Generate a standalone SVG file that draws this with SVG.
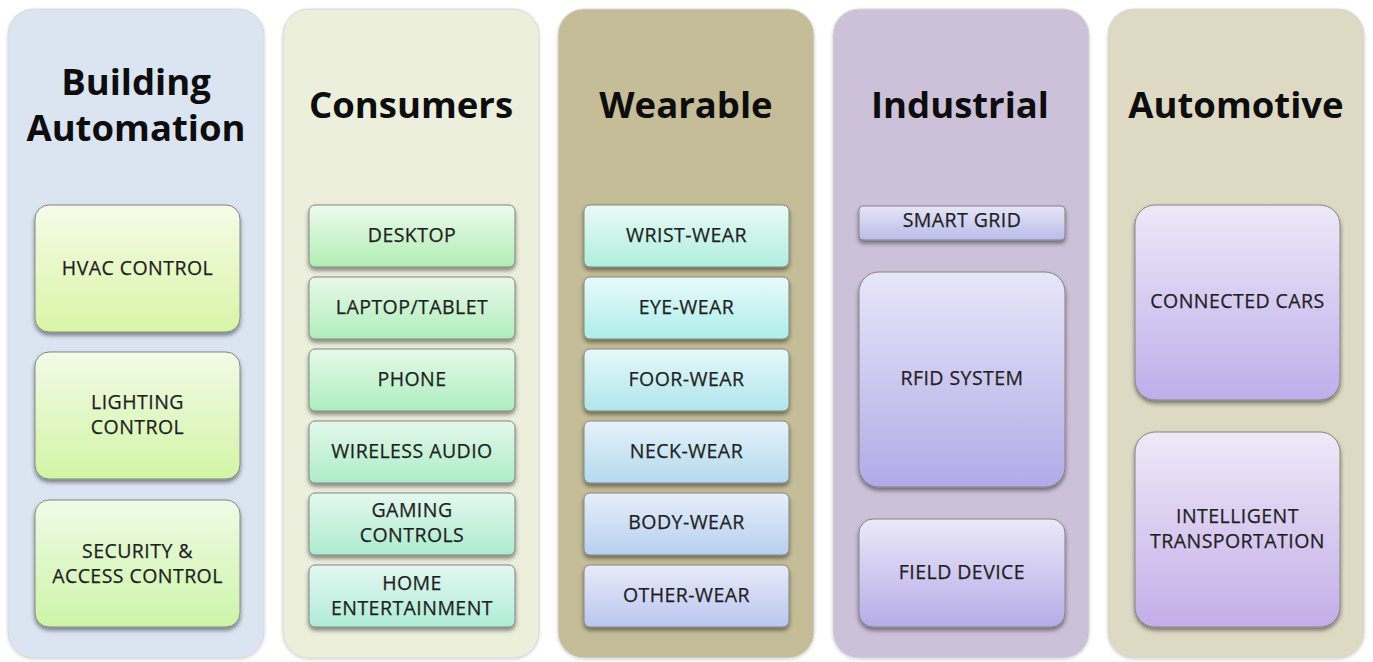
<svg xmlns="http://www.w3.org/2000/svg" width="1373" height="662" viewBox="0 0 1373 662">
<style>
.panel{stroke:#d8d8d8;stroke-width:1;filter:url(#ps)}
.box{stroke:#858585;stroke-width:1;filter:url(#bs)}
.title{font-family:"Open Sans","DejaVu Sans",sans-serif;font-weight:700;font-size:36.5px;fill:#0d0d0d;text-anchor:middle}
.lbl{font-family:"Open Sans","DejaVu Sans",sans-serif;font-size:19.5px;fill:#1f1f1f;text-anchor:middle;letter-spacing:0.45px;stroke:#1f1f1f;stroke-width:0.25px}
</style>
<defs>
<filter id="ps" x="-10%" y="-10%" width="120%" height="120%">
<feDropShadow dx="0" dy="1" stdDeviation="1.5" flood-color="#000" flood-opacity="0.18"/>
</filter>
<filter id="bs" x="-10%" y="-20%" width="120%" height="150%">
<feDropShadow dx="0" dy="3" stdDeviation="2" flood-color="#000" flood-opacity="0.45"/>
</filter>
<linearGradient id="g1a" x1="0" y1="0" x2="0" y2="1"><stop offset="0" stop-color="#f5fbe8"/><stop offset="1" stop-color="#d9f5a6"/></linearGradient>
<linearGradient id="g1b" x1="0" y1="0" x2="0" y2="1"><stop offset="0" stop-color="#f1fbe6"/><stop offset="1" stop-color="#d3f4a6"/></linearGradient>
<linearGradient id="g1c" x1="0" y1="0" x2="0" y2="1"><stop offset="0" stop-color="#eefbe6"/><stop offset="1" stop-color="#cdf4a8"/></linearGradient>
<linearGradient id="g2a" x1="0" y1="0" x2="0" y2="1"><stop offset="0" stop-color="#eefaee"/><stop offset="1" stop-color="#b0eeb2"/></linearGradient>
<linearGradient id="g2b" x1="0" y1="0" x2="0" y2="1"><stop offset="0" stop-color="#e8f9ea"/><stop offset="1" stop-color="#afeeba"/></linearGradient>
<linearGradient id="g2c" x1="0" y1="0" x2="0" y2="1"><stop offset="0" stop-color="#e6f9ea"/><stop offset="1" stop-color="#adeebf"/></linearGradient>
<linearGradient id="g2d" x1="0" y1="0" x2="0" y2="1"><stop offset="0" stop-color="#e4f8ec"/><stop offset="1" stop-color="#acedc6"/></linearGradient>
<linearGradient id="g2e" x1="0" y1="0" x2="0" y2="1"><stop offset="0" stop-color="#e4f8ef"/><stop offset="1" stop-color="#acecce"/></linearGradient>
<linearGradient id="g2f" x1="0" y1="0" x2="0" y2="1"><stop offset="0" stop-color="#e4f8f1"/><stop offset="1" stop-color="#aeecd6"/></linearGradient>
<linearGradient id="g3a" x1="0" y1="0" x2="0" y2="1"><stop offset="0" stop-color="#eafbf6"/><stop offset="1" stop-color="#afeedf"/></linearGradient>
<linearGradient id="g3b" x1="0" y1="0" x2="0" y2="1"><stop offset="0" stop-color="#e8fafa"/><stop offset="1" stop-color="#adeee9"/></linearGradient>
<linearGradient id="g3c" x1="0" y1="0" x2="0" y2="1"><stop offset="0" stop-color="#e6f8fa"/><stop offset="1" stop-color="#afe6ec"/></linearGradient>
<linearGradient id="g3d" x1="0" y1="0" x2="0" y2="1"><stop offset="0" stop-color="#e6f2fa"/><stop offset="1" stop-color="#b2daee"/></linearGradient>
<linearGradient id="g3e" x1="0" y1="0" x2="0" y2="1"><stop offset="0" stop-color="#e6eefa"/><stop offset="1" stop-color="#b6d0f0"/></linearGradient>
<linearGradient id="g3f" x1="0" y1="0" x2="0" y2="1"><stop offset="0" stop-color="#e8eaf8"/><stop offset="1" stop-color="#bac6f0"/></linearGradient>
<linearGradient id="g4a" x1="0" y1="0" x2="0" y2="1"><stop offset="0" stop-color="#e6e6f7"/><stop offset="1" stop-color="#b8bce9"/></linearGradient>
<linearGradient id="g4b" x1="0" y1="0" x2="0" y2="1"><stop offset="0" stop-color="#e8e6f8"/><stop offset="1" stop-color="#b2aae8"/></linearGradient>
<linearGradient id="g4c" x1="0" y1="0" x2="0" y2="1"><stop offset="0" stop-color="#ebe8f8"/><stop offset="1" stop-color="#b6ace9"/></linearGradient>
<linearGradient id="g5a" x1="0" y1="0" x2="0" y2="1"><stop offset="0" stop-color="#ede8f8"/><stop offset="1" stop-color="#beaeea"/></linearGradient>
<linearGradient id="g5b" x1="0" y1="0" x2="0" y2="1"><stop offset="0" stop-color="#efe9f8"/><stop offset="1" stop-color="#c3aee8"/></linearGradient>
</defs>
<rect width="1373" height="662" fill="#ffffff"/>

<g id="panel-building">
<rect class="panel" x="8" y="9" width="256" height="649" rx="26" fill="#dbe5f1"/>
<text class="title" x="136" y="95">Building</text>
<text class="title" x="136" y="141">Automation</text>
</g>
<g id="panel-consumers">
<rect class="panel" x="283" y="9" width="256" height="649" rx="26" fill="#ebefdc"/>
<text class="title" x="411" y="118">Consumers</text>
</g>
<g id="panel-wearable">
<rect class="panel" x="558" y="9" width="256" height="649" rx="26" fill="#c4bd97"/>
<text class="title" x="686" y="118">Wearable</text>
</g>
<g id="panel-industrial">
<rect class="panel" x="833" y="9" width="256" height="649" rx="26" fill="#ccc1d9"/>
<text class="title" x="960" y="118">Industrial</text>
</g>
<g id="panel-automotive">
<rect class="panel" x="1108" y="9" width="256" height="649" rx="26" fill="#ddd9c3"/>
<text class="title" x="1236" y="118">Automotive</text>
</g>

<g id="hvac"><rect class="box" x="35" y="205" width="205" height="127" rx="14" fill="url(#g1a)"/><text class="lbl" x="137.5" y="275">HVAC CONTROL</text></g>
<g id="lighting"><rect class="box" x="35" y="352" width="205" height="127" rx="14" fill="url(#g1b)"/><text class="lbl" x="137.5" y="408.5">LIGHTING</text><text class="lbl" x="137.5" y="433.5">CONTROL</text></g>
<g id="security"><rect class="box" x="35" y="500" width="205" height="127" rx="14" fill="url(#g1c)"/><text class="lbl" x="137.5" y="557.5">SECURITY &amp;</text><text class="lbl" x="137.5" y="582.5">ACCESS CONTROL</text></g>

<g id="desktop"><rect class="box" x="309" y="205" width="206" height="62" rx="6" fill="url(#g2a)"/><text class="lbl" x="412" y="242">DESKTOP</text></g>
<g id="laptop"><rect class="box" x="309" y="277" width="206" height="62" rx="6" fill="url(#g2b)"/><text class="lbl" x="412" y="314">LAPTOP/TABLET</text></g>
<g id="phone"><rect class="box" x="309" y="349" width="206" height="62" rx="6" fill="url(#g2c)"/><text class="lbl" x="412" y="386">PHONE</text></g>
<g id="wireless-audio"><rect class="box" x="309" y="421" width="206" height="62" rx="6" fill="url(#g2d)"/><text class="lbl" x="412" y="458">WIRELESS AUDIO</text></g>
<g id="gaming"><rect class="box" x="309" y="493" width="206" height="62" rx="6" fill="url(#g2e)"/><text class="lbl" x="412" y="516.5">GAMING</text><text class="lbl" x="412" y="541.5">CONTROLS</text></g>
<g id="home"><rect class="box" x="309" y="565" width="206" height="62" rx="6" fill="url(#g2f)"/><text class="lbl" x="412" y="589.5">HOME</text><text class="lbl" x="412" y="614.5">ENTERTAINMENT</text></g>

<g id="wrist"><rect class="box" x="584" y="205" width="205" height="62" rx="6" fill="url(#g3a)"/><text class="lbl" x="686.5" y="242">WRIST-WEAR</text></g>
<g id="eye"><rect class="box" x="584" y="277" width="205" height="62" rx="6" fill="url(#g3b)"/><text class="lbl" x="686.5" y="314">EYE-WEAR</text></g>
<g id="foor"><rect class="box" x="584" y="349" width="205" height="62" rx="6" fill="url(#g3c)"/><text class="lbl" x="686.5" y="386">FOOR-WEAR</text></g>
<g id="neck"><rect class="box" x="584" y="421" width="205" height="62" rx="6" fill="url(#g3d)"/><text class="lbl" x="686.5" y="458">NECK-WEAR</text></g>
<g id="body"><rect class="box" x="584" y="493" width="205" height="62" rx="6" fill="url(#g3e)"/><text class="lbl" x="686.5" y="529">BODY-WEAR</text></g>
<g id="other"><rect class="box" x="584" y="565" width="205" height="62" rx="6" fill="url(#g3f)"/><text class="lbl" x="686.5" y="602">OTHER-WEAR</text></g>

<g id="smart-grid"><rect class="box" x="859" y="206" width="206" height="34" rx="4" fill="url(#g4a)"/><text class="lbl" x="962" y="227">SMART GRID</text></g>
<g id="rfid"><rect class="box" x="859" y="272" width="206" height="215" rx="20" fill="url(#g4b)"/><text class="lbl" x="962" y="385">RFID SYSTEM</text></g>
<g id="field"><rect class="box" x="859" y="519" width="206" height="108" rx="14" fill="url(#g4c)"/><text class="lbl" x="962" y="579">FIELD DEVICE</text></g>

<g id="connected-cars"><rect class="box" x="1135" y="205" width="205" height="195" rx="20" fill="url(#g5a)"/><text class="lbl" x="1237.5" y="308">CONNECTED CARS</text></g>
<g id="intelligent"><rect class="box" x="1135" y="432" width="205" height="195" rx="20" fill="url(#g5b)"/><text class="lbl" x="1237.5" y="522.5">INTELLIGENT</text><text class="lbl" x="1237.5" y="547.5">TRANSPORTATION</text></g>

<g id="connectors"></g>
</svg>
